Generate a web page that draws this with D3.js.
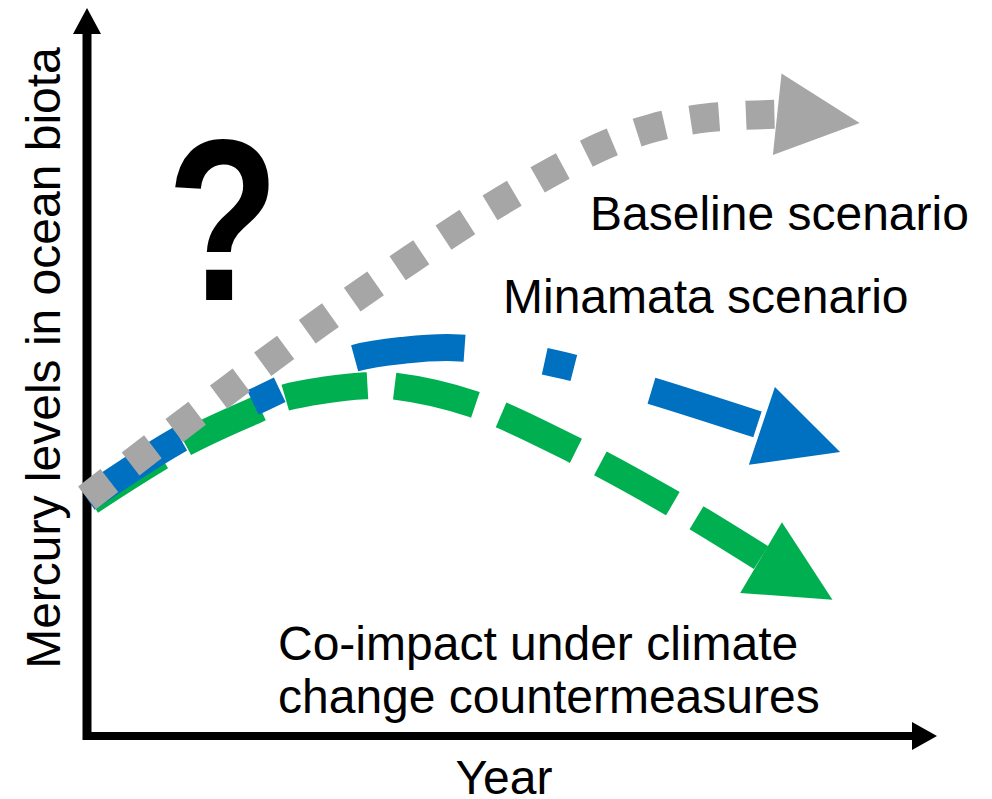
<!DOCTYPE html>
<html><head><meta charset="utf-8">
<script src="https://cdn.jsdelivr.net/npm/d3@7"></script>
<style>
html,body{margin:0;padding:0;background:#fff;}
svg{display:block;}
text{font-family:"Liberation Sans",Arial,sans-serif;fill:#000;}
</style>
</head><body>
<svg id="chart" width="992" height="799"></svg>
<script>
// ---- data (conceptual units: year index 0-100, level 0-100) ----
const baselineYear  = [0, 6.5, 16.8, 27.3, 38.0, 48.9, 60.4, 66.5, 72.9, 81.2];
const baselineLevel = [32.7, 38.6, 47.7, 56.7, 65.4, 73.6, 80.9, 83.5, 84.9, 85.4];
const baselineTip   = [90.9, 84.2];

const minamataYear  = [0, 10.5, 20.6, 30.9, 37.4, 43.9, 55.3, 66.2, 79.4];
const minamataLevel = [32.6, 40.5, 46.4, 51.7, 53.0, 53.3, 51.1, 47.5, 42.6];
const minamataTip   = [88.6, 39.0];

const coimpactYear  = [0, 11.3, 19.9, 23.1, 27.9, 32.7, 35.9, 45.4, 57.3, 68.8, 79.3];
const coimpactLevel = [31.9, 40.1, 44.8, 46.4, 47.5, 48.1, 48.1, 45.6, 39.3, 32.0, 24.5];
const coimpactTip   = [87.7, 18.7];

const seriesLabels = ["Baseline scenario", "Minamata scenario", "Co-impact under climate", "change countermeasures"];
const xAxisTitle = "Year";
const yAxisTitle = "Mercury levels in ocean biota";
const markText = "?";

// ---- layout ----
const svg = d3.select("#chart");
const x = d3.scaleLinear().domain([0, 100]).range([87, 937]);
const y = d3.scaleLinear().domain([0, 100]).range([736, 8]);

// axes
const axisG = svg.append("g");
axisG.append("line")
  .attr("x1", x(0)).attr("x2", x(0))
  .attr("y1", y(0) + 4).attr("y2", y(100) + 26)
  .attr("stroke", "#000").attr("stroke-width", 9);
axisG.append("path")
  .attr("d", `M${x(0)-14},${y(100)+26}L${x(0)},${y(100)}L${x(0)+14},${y(100)+26}Z`)
  .attr("fill", "#000");
axisG.append("line")
  .attr("x1", x(0) - 4).attr("x2", x(100) - 24)
  .attr("y1", y(0)).attr("y2", y(0))
  .attr("stroke", "#000").attr("stroke-width", 8);
axisG.append("path")
  .attr("d", `M${x(100)-25},${y(0)-14}L${x(100)},${y(0)}L${x(100)-25},${y(0)+14}Z`)
  .attr("fill", "#000");

const line = d3.line().x(d => x(d[0])).y(d => y(d[1])).curve(d3.curveCatmullRom.alpha(0.5));

const series = [
  {xs: coimpactYear, ys: coimpactLevel, tip: coimpactTip, color: "#00b050", dash: "83 27.5", offset: -4.5, width: 27},
  {xs: minamataYear, ys: minamataLevel, tip: minamataTip, color: "#0070c0", dash: "111 81 30 81", offset: 0, width: 27},
  {xs: baselineYear, ys: baselineLevel, tip: baselineTip, color: "#a6a6a6", dash: "28.5 26.7", offset: 0, width: 29}
];

series.forEach(s => {
  const pts = s.xs.map((v, i) => [v, s.ys[i]]);
  svg.append("path")
    .attr("d", line(pts))
    .attr("fill", "none")
    .attr("stroke", s.color)
    .attr("stroke-width", s.width)
    .attr("stroke-dasharray", s.dash)
    .attr("stroke-dashoffset", s.offset)
    .attr("stroke-linecap", "butt");
  // arrowhead: base centred on last point, pointing at tip
  const last = pts[pts.length - 1];
  const bx = x(last[0]), by = y(last[1]);
  const tx = x(s.tip[0]), ty = y(s.tip[1]);
  const dx = tx - bx, dy = ty - by, len = Math.hypot(dx, dy);
  const nx = -dy / len, ny = dx / len, hw = 41;
  svg.append("path")
    .attr("d", `M${bx + nx*hw},${by + ny*hw}L${tx},${ty}L${bx - nx*hw},${by - ny*hw}Z`)
    .attr("fill", s.color);
});

// texts
const fs = 48;
svg.append("text").attr("x", 590).attr("y", 230).attr("font-size", fs).text(seriesLabels[0]);
svg.append("text").attr("x", 503).attr("y", 313).attr("font-size", fs).text(seriesLabels[1]);
svg.append("text").attr("x", 278).attr("y", 660).attr("font-size", fs).text(seriesLabels[2]);
svg.append("text").attr("x", 278).attr("y", 713).attr("font-size", fs).text(seriesLabels[3]);
svg.append("text").attr("x", 504).attr("y", 794).attr("font-size", fs).attr("text-anchor", "middle").text(xAxisTitle);
svg.append("text").attr("transform", "translate(60,358) rotate(-90)")
  .attr("font-size", 48).attr("text-anchor", "middle").text(yAxisTitle);
svg.append("text").attr("transform", "translate(223,300) scale(0.8,1)")
  .attr("font-size", 230).attr("font-weight", "bold").attr("text-anchor", "middle").text(markText);
</script>
</body></html>
